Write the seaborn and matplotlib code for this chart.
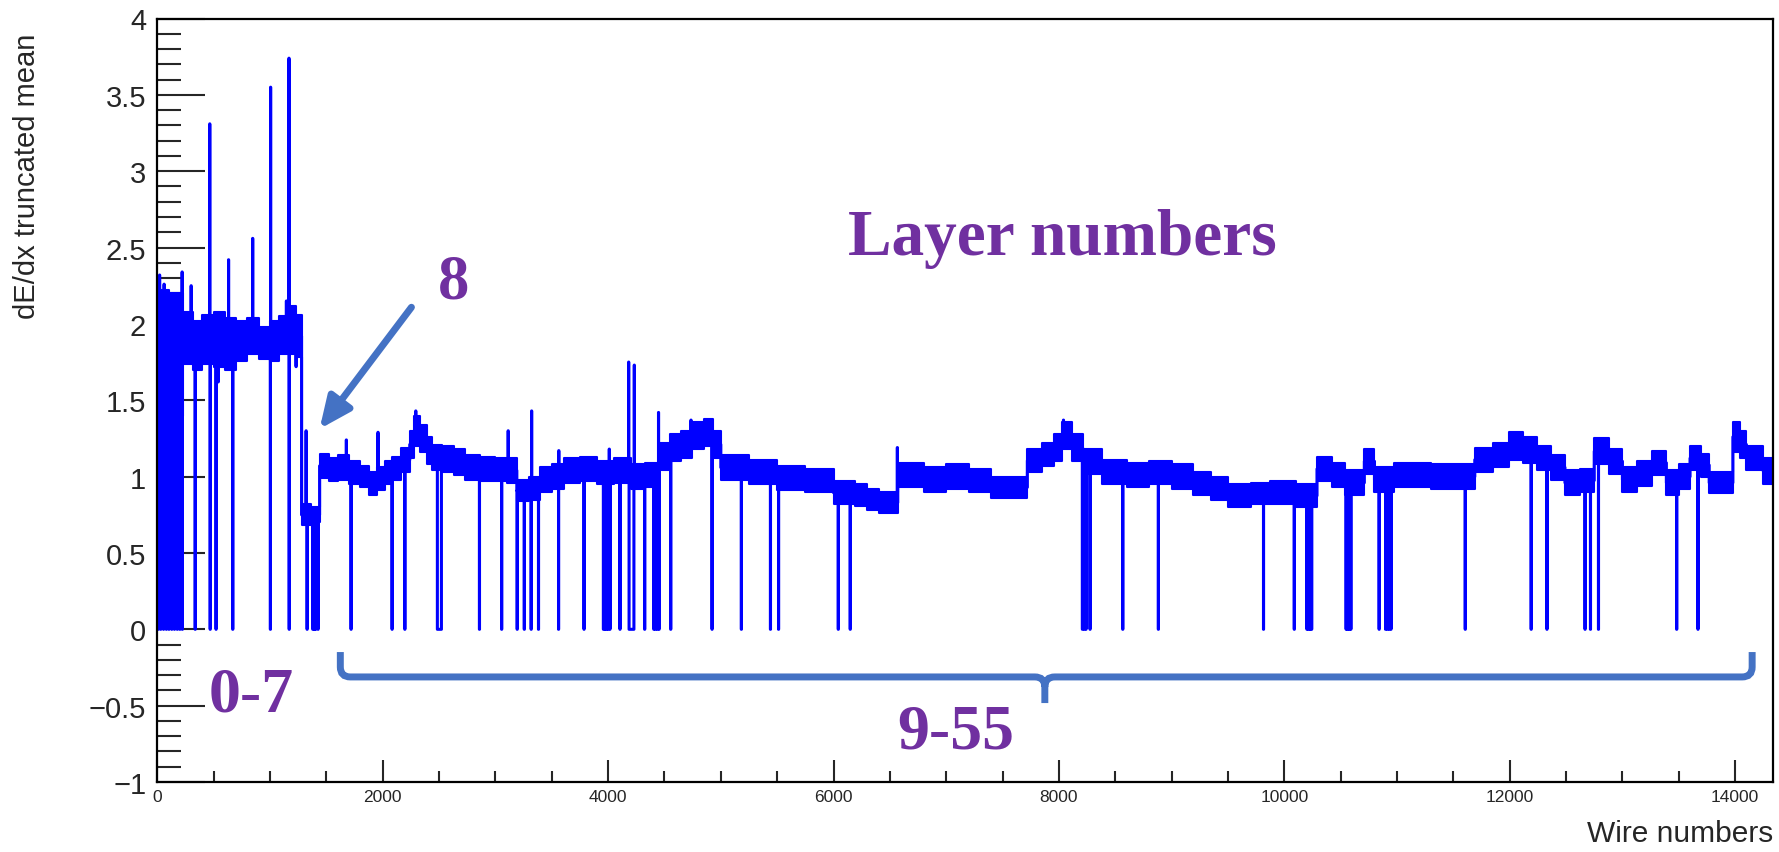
import numpy as np
import pandas as pd
import seaborn as sns
import matplotlib.pyplot as plt
from matplotlib.path import Path
from matplotlib.patches import PathPatch
from matplotlib.ticker import MultipleLocator, FuncFormatter

sns.set_style("ticks")
plt.rcParams['font.family'] = ['Liberation Sans', 'DejaVu Sans']

n_wires = 14336

# noise band of the truncated mean, read segment by segment (start wire, low edge, high edge)
seg_start = [0, 100, 225, 320, 400, 500, 600, 700, 800, 900,
             1000, 1080, 1150, 1230, 1280, 1360, 1440, 1520, 1600, 1700,
             1800, 1880, 1950, 2020, 2080, 2160, 2240, 2280, 2330, 2390,
             2440, 2530, 2630, 2730, 2860, 3000, 3100, 3190, 3300, 3400,
             3500, 3610, 3750, 3900, 4050, 4200, 4330, 4450, 4550, 4650,
             4740, 4850, 4930, 5000, 5250, 5500, 5750, 6000, 6190, 6300,
             6400, 6570, 6800, 7000, 7200, 7400, 7720, 7850, 7960, 8030,
             8120, 8210, 8380, 8600, 8800, 9000, 9190, 9350, 9500, 9700,
             9870, 10100, 10290, 10420, 10540, 10710, 10800, 10970, 11300, 11690,
             11850, 11990, 12120, 12240, 12370, 12490, 12620, 12750, 12880, 13000,
             13130, 13260, 13390, 13500, 13600, 13700, 13770, 13980, 14040, 14100,
             14250]
band_lo = [1.38, 1.40, 1.74, 1.70, 1.74, 1.72, 1.70, 1.76, 1.80, 1.77,
           1.76, 1.80, 1.80, 1.78, 0.68, 0.70, 0.99, 0.97, 0.98, 0.95,
           0.93, 0.88, 0.91, 0.95, 0.98, 1.03, 1.12, 1.20, 1.16, 1.08,
           1.04, 1.03, 1.01, 0.98, 0.97, 0.97, 0.96, 0.84, 0.85, 0.90,
           0.92, 0.96, 0.97, 0.95, 0.96, 0.92, 0.93, 1.04, 1.10, 1.12,
           1.18, 1.20, 1.12, 0.98, 0.95, 0.91, 0.90, 0.82, 0.81, 0.78,
           0.76, 0.93, 0.90, 0.92, 0.90, 0.86, 1.03, 1.07, 1.10, 1.18,
           1.10, 1.02, 0.95, 0.93, 0.95, 0.92, 0.88, 0.85, 0.80, 0.82,
           0.82, 0.80, 0.97, 0.93, 0.88, 1.02, 0.90, 0.93, 0.92, 1.03,
           1.06, 1.11, 1.09, 1.04, 0.98, 0.88, 0.90, 1.08, 1.02, 0.90,
           0.94, 1.01, 0.88, 0.92, 1.04, 1.00, 0.89, 1.16, 1.12, 1.04,
           0.95]
band_hi = [2.22, 2.20, 2.08, 2.02, 2.06, 2.08, 2.04, 2.02, 2.04, 1.98,
           2.02, 2.05, 2.12, 2.06, 0.82, 0.80, 1.15, 1.12, 1.14, 1.10,
           1.07, 1.03, 1.06, 1.10, 1.13, 1.19, 1.30, 1.40, 1.34, 1.26,
           1.21, 1.20, 1.18, 1.14, 1.13, 1.12, 1.12, 0.98, 1.00, 1.06,
           1.08, 1.12, 1.13, 1.10, 1.12, 1.08, 1.09, 1.22, 1.28, 1.30,
           1.36, 1.38, 1.30, 1.14, 1.11, 1.07, 1.05, 0.97, 0.95, 0.92,
           0.90, 1.09, 1.06, 1.08, 1.05, 1.00, 1.18, 1.22, 1.28, 1.36,
           1.28, 1.18, 1.11, 1.09, 1.10, 1.08, 1.03, 1.00, 0.95, 0.96,
           0.97, 0.95, 1.13, 1.09, 1.04, 1.18, 1.06, 1.09, 1.08, 1.19,
           1.22, 1.29, 1.26, 1.20, 1.14, 1.04, 1.05, 1.25, 1.18, 1.06,
           1.10, 1.17, 1.04, 1.08, 1.20, 1.15, 1.03, 1.36, 1.30, 1.20,
           1.12]

# wires with no entries (drawn at 0)
dead_wires = [8, 30, 55, 80, 103, 128, 152, 177, 200, 222,
              336, 469, 521, 669, 1003, 1170, 1329, 1379, 1392, 1405, 1426,
              1719, 2083, 2196, 2858, 3055, 3193, 3256, 3317, 3382, 3560,
              3786, 3958, 3972, 3986, 4000, 4016, 4105, 4324, 4405, 4420,
              4436, 4452, 4555, 4922, 5182, 5440, 5512, 6042, 6148,
              8208, 8224, 8240, 8276, 8566, 8882, 9815, 10088, 10200, 10214,
              10228, 10242, 10548, 10562, 10576, 10590, 10841, 10898, 10914,
              10930, 10946, 11605, 12190, 12330, 12668, 12716, 12787, 13481, 13670]
dead_ranges = [(2485, 2520), (4186, 4228)]

# single wires far from the band
outlier_wires = [20, 60, 220, 300, 465, 540, 632, 846, 1005, 1145, 1168, 1231,
                 1320, 1677, 1958, 2293, 3113, 3321, 3562, 4010, 4182, 4232,
                 4447, 4735, 6566, 8040, 14010]
outlier_values = [2.32, 2.26, 2.34, 2.25, 3.31, 1.62, 2.42, 2.56, 3.55, 2.15, 3.74, 1.72,
                  1.30, 1.24, 1.29, 1.43, 1.30, 1.43, 1.17, 1.18, 1.75, 1.73,
                  1.42, 1.37, 1.19, 1.37, 1.33]

# per-wire histogram
edges = np.array(seg_start + [n_wires])
lo = np.array(band_lo)
hi = np.array(band_hi)
hist = np.repeat((lo + hi) / 2, np.diff(edges))
hist[dead_wires] = 0
for a, b in dead_ranges:
    hist[a:b + 1] = 0
hist[outlier_wires] = outlier_values
df = pd.DataFrame({'wire': np.arange(n_wires), 'dedx': hist})

W, H = 1779, 853
fig = plt.figure(figsize=(W / 100, H / 100), dpi=100)
ax = fig.add_axes([157.3 / W, 1 - 783 / H, (1773 - 157.3) / W, (783 - 19.5) / H])

line_col = '#0000ff'
ax.fill_between(edges, np.append(lo, lo[-1]), np.append(hi, hi[-1]),
                step='post', color=line_col, linewidth=1.5)
sns.lineplot(data=df, x='wire', y='dedx', estimator=None, drawstyle='steps-post',
             color=line_col, linewidth=2.2, ax=ax)

ax.set_xlim(0, n_wires)
ax.set_ylim(-1, 4)
ax.set_xlabel('')
ax.set_ylabel('')
ax.xaxis.set_major_locator(MultipleLocator(2000))
ax.xaxis.set_minor_locator(MultipleLocator(500))
ax.yaxis.set_major_locator(MultipleLocator(0.5))
ax.yaxis.set_minor_locator(MultipleLocator(0.1))
ax.yaxis.set_major_formatter(FuncFormatter(lambda v, p: f'{v:g}'.replace('-', '\u2212')))
ax.xaxis.set_major_formatter(FuncFormatter(lambda v, p: f'{v:g}'))
ax.tick_params(axis='y', which='major', direction='in', length=34.5, width=1.5,
               labelsize=21, pad=8)
ax.tick_params(axis='y', which='minor', direction='in', length=17, width=1.5)
ax.tick_params(axis='x', which='major', direction='in', length=15.6, width=1.5,
               labelsize=12.5, pad=5)
ax.tick_params(axis='x', which='minor', direction='in', length=7.7, width=1.5)
for s in ax.spines.values():
    s.set_linewidth(1.6)
    s.set_color('black')

fig.text(27 / W, 1 - 34 / H, 'dE/dx truncated mean', rotation=90,
         ha='center', va='top', fontsize=21)
fig.text(1773 / W, 1 - 834 / H, 'Wire numbers', ha='right', va='center', fontsize=21.5)

# annotations
purple = '#7030A0'
serif = dict(family=['Liberation Serif', 'DejaVu Serif'], weight='bold', color=purple)
ax.text(6130, 2.458, 'Layer numbers', ha='left', va='baseline', fontsize=47, **serif)
ax.text(2629, 2.176, '8', ha='center', va='baseline', fontsize=45, **serif)
ax.text(455, -0.533, '0-7', ha='left', va='baseline', fontsize=46, **serif)
ax.text(6565, -0.773, '9-55', ha='left', va='baseline', fontsize=46, **serif)

arrow_col = '#4472C4'
ax.annotate('', xy=(1440, 1.312), xytext=(2255, 2.109),
            arrowprops=dict(arrowstyle='-|>,head_length=1.9,head_width=0.85',
                            lw=5, color=arrow_col, shrinkA=0, shrinkB=0))

xL, xR, xC = 1624, 14151, 7875
yH, yTop, yTip = -0.312, -0.149, -0.483
rx, ry = 89, 0.065
verts = [(xL, yTop), (xL, yH + ry), (xL, yH), (xL + rx, yH), (xC - rx, yH),
         (xC, yH), (xC, yH - ry), (xC, yTip),
         (xC, yH - ry), (xC, yH), (xC + rx, yH), (xR - rx, yH),
         (xR, yH), (xR, yH + ry), (xR, yTop)]
codes = [Path.MOVETO, Path.LINETO, Path.CURVE3, Path.CURVE3, Path.LINETO,
         Path.CURVE3, Path.CURVE3, Path.LINETO,
         Path.MOVETO, Path.CURVE3, Path.CURVE3, Path.LINETO,
         Path.CURVE3, Path.CURVE3, Path.LINETO]
ax.add_patch(PathPatch(Path(verts, codes), facecolor='none', edgecolor=arrow_col,
                       lw=5, capstyle='butt'))

fig.savefig('out.png', dpi=100)
